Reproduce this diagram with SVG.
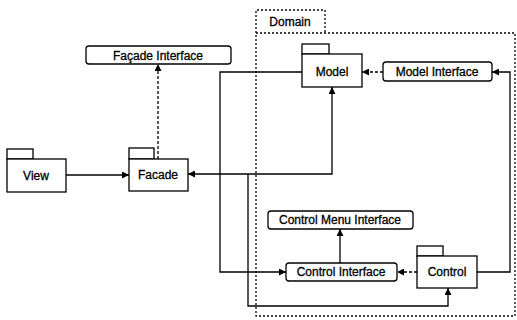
<svg xmlns="http://www.w3.org/2000/svg" width="517" height="320" viewBox="0 0 517 320">
<defs>
<marker id="ah" viewBox="0 0 10 10" refX="10" refY="5" markerWidth="7" markerHeight="7" markerUnits="userSpaceOnUse" orient="auto">
<path d="M0,0 L10,5 L0,10 z" fill="#000"/>
</marker>
</defs>
<style>
.b{fill:#fff;stroke:#000;stroke-width:1.3}
.t{font-family:"Liberation Sans",Arial,sans-serif;font-size:12px;fill:#000;stroke:#000;stroke-width:0.3;text-anchor:middle;dominant-baseline:central}
.s{fill:none;stroke:#000;stroke-width:1.3}
.d{fill:none;stroke:#000;stroke-width:1.3;stroke-dasharray:3,2}
.dom{fill:none;stroke:#000;stroke-width:1.3;stroke-dasharray:2,2}
</style>
<g id="domain">
<path class="dom" d="M256,33 V10 H325 V33"/>
<rect class="dom" x="256" y="33" width="259" height="283"/>
<text class="t" x="290" y="22">Domain</text>
</g>
<g id="connectors">
<path class="s" d="M66,175 H129" marker-end="url(#ah)"/>
<path class="d" d="M158,159 V64" marker-end="url(#ah)"/>
<path class="s" d="M248,174 H188" marker-end="url(#ah)"/>
<path class="s" d="M248,174 H332 V87" marker-end="url(#ah)"/>
<path class="s" d="M248,174 V306 H448 V288" marker-end="url(#ah)"/>
<path class="s" d="M302,72 H220 V272 H286" marker-end="url(#ah)"/>
<path class="d" d="M383,72 H362" marker-end="url(#ah)"/>
<path class="s" d="M477,272 H510 V72 H492" marker-end="url(#ah)"/>
<path class="d" d="M417,272 H397" marker-end="url(#ah)"/>
<path class="s" d="M340,263 V229" marker-end="url(#ah)"/>
</g>
<g id="facade-interface">
<rect class="b" x="86" y="46" width="145" height="18" rx="3"/>
<text class="t" x="158" y="55.5">Façade Interface</text>
</g>
<g id="view">
<rect class="b" x="7" y="149" width="26" height="10"/>
<rect class="b" x="7" y="159" width="59" height="33"/>
<text class="t" x="36" y="176">View</text>
</g>
<g id="facade">
<rect class="b" x="129" y="148" width="25" height="11"/>
<rect class="b" x="129" y="159" width="59" height="32"/>
<text class="t" x="158" y="175">Facade</text>
</g>
<g id="model">
<rect class="b" x="302" y="44" width="27" height="10"/>
<rect class="b" x="302" y="54" width="60" height="33"/>
<text class="t" x="332" y="72">Model</text>
</g>
<g id="model-interface">
<rect class="b" x="383" y="62" width="109" height="19" rx="3"/>
<text class="t" x="437" y="71.5">Model Interface</text>
</g>
<g id="control-menu-interface">
<rect class="b" x="268" y="211" width="145" height="18" rx="3"/>
<text class="t" x="340" y="220">Control Menu Interface</text>
</g>
<g id="control-interface">
<rect class="b" x="286" y="263" width="111" height="18" rx="3"/>
<text class="t" x="341" y="272">Control Interface</text>
</g>
<g id="control">
<rect class="b" x="417" y="246" width="26" height="10"/>
<rect class="b" x="417" y="256" width="60" height="32"/>
<text class="t" x="447" y="272">Control</text>
</g>
</svg>
